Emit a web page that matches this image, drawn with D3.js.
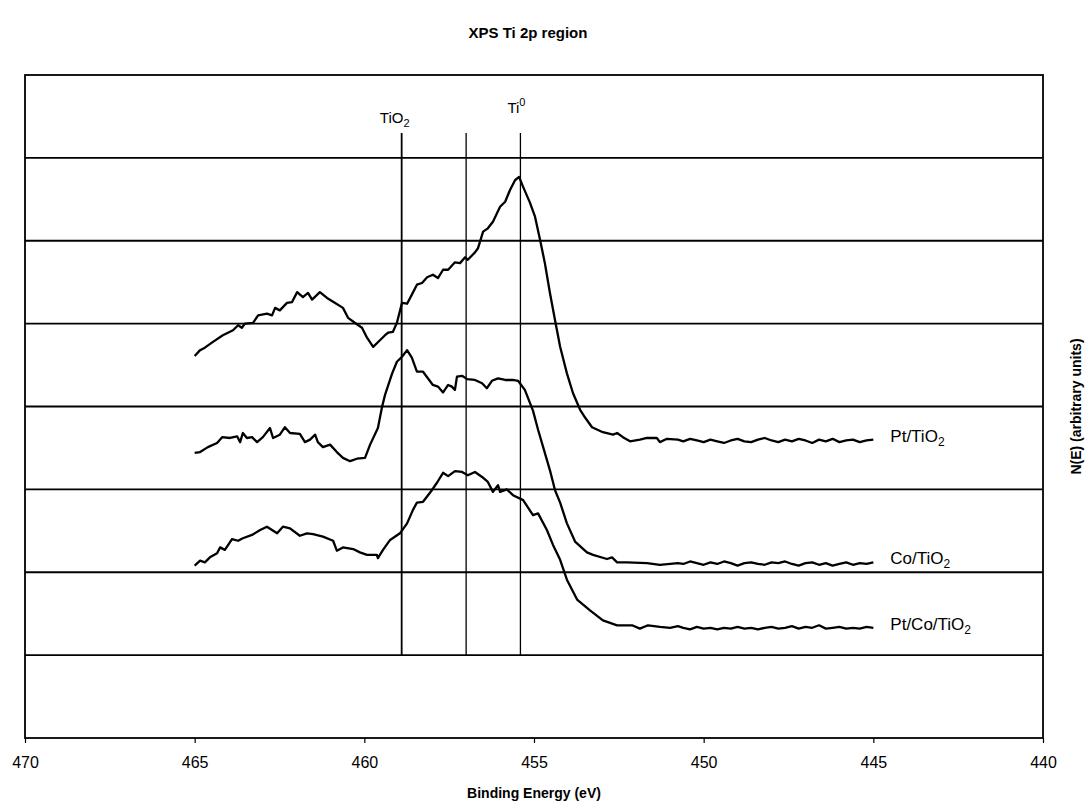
<!DOCTYPE html>
<html>
<head>
<meta charset="utf-8">
<script src="https://cdn.jsdelivr.net/npm/d3@7/dist/d3.min.js"></script>
<style>
  body { margin: 0; background: #fff; }
  svg { display: block; font-family: "Liberation Sans", Arial, sans-serif; }
</style>
</head>
<body>
<div id="chart"></div>
<script>
// Daten
const xTicks = [470, 465, 460, 455, 450, 445, 440];
const gridLevels = [1, 2, 3, 4, 5, 6, 7];
const markerEnergies = [458.9, 457.0, 455.4];
const markerRange = [1.0, 7.3];

const ptTiO2 = [
  [465.00,4.61],[464.84,4.68],[464.70,4.71],[464.46,4.78],[464.17,4.86],[463.87,4.92],[463.72,4.98],
  [463.61,4.95],[463.52,5.00],[463.28,5.01],[463.13,5.10],[462.87,5.12],[462.72,5.10],[462.63,5.19],
  [462.49,5.16],[462.28,5.25],[462.13,5.26],[461.98,5.38],[461.81,5.32],[461.66,5.37],[461.54,5.29],
  [461.31,5.38],[461.10,5.31],[460.86,5.25],[460.63,5.19],[460.48,5.07],[460.28,5.01],[460.07,4.95],
  [459.92,4.83],[459.74,4.72],[459.54,4.80],[459.39,4.86],[459.30,4.89],[459.16,4.90],[459.04,5.01],
  [458.89,5.25],[458.74,5.24],[458.60,5.35],[458.45,5.47],[458.30,5.49],[458.15,5.56],[457.98,5.59],
  [457.83,5.55],[457.68,5.65],[457.53,5.65],[457.33,5.74],[457.18,5.73],[457.03,5.80],[456.95,5.77],
  [456.74,5.86],[456.65,5.91],[456.50,6.11],[456.36,6.15],[456.21,6.23],[456.00,6.41],[455.85,6.47],
  [455.71,6.61],[455.56,6.73],[455.44,6.77],[455.32,6.65],[455.12,6.46],[454.97,6.29],[454.82,6.01],
  [454.68,5.73],[454.53,5.37],[454.38,5.04],[454.23,4.72],[454.03,4.40],[453.85,4.16],[453.64,3.96],
  [453.50,3.87],[453.29,3.75],[452.97,3.69],[452.67,3.66],[452.55,3.68],[452.38,3.63],[452.17,3.58],
  [451.88,3.60],[451.67,3.62],[451.38,3.62],[451.29,3.57],[451.08,3.61],[450.76,3.60],
  [450.6,3.58],[450.4,3.61],[450.2,3.59],[450.0,3.57],[449.8,3.60],[449.6,3.58],[449.4,3.56],
  [449.2,3.59],[449.0,3.61],[448.8,3.58],[448.6,3.57],[448.4,3.60],[448.2,3.62],[448.0,3.59],
  [447.8,3.57],[447.6,3.60],[447.4,3.58],[447.2,3.61],[447.0,3.59],[446.8,3.56],[446.6,3.60],
  [446.4,3.58],[446.2,3.61],[446.0,3.57],[445.8,3.59],[445.6,3.60],[445.4,3.57],[445.2,3.59],[445.0,3.60]
];

const coTiO2 = [
  [465.00,3.44],[464.84,3.45],[464.61,3.51],[464.34,3.56],[464.19,3.63],[463.96,3.62],[463.75,3.64],
  [463.66,3.57],[463.58,3.68],[463.46,3.62],[463.31,3.63],[463.16,3.57],[462.99,3.63],[462.78,3.74],
  [462.69,3.62],[462.49,3.66],[462.34,3.75],[462.19,3.68],[461.90,3.67],[461.75,3.57],[461.60,3.60],
  [461.45,3.66],[461.37,3.57],[461.22,3.51],[461.01,3.54],[460.81,3.45],[460.63,3.38],[460.42,3.34],
  [460.22,3.37],[459.98,3.38],[459.83,3.54],[459.60,3.74],[459.48,3.99],[459.39,4.14],[459.18,4.40],
  [459.04,4.54],[458.89,4.60],[458.74,4.68],[458.60,4.59],[458.45,4.42],[458.27,4.42],[457.98,4.26],
  [457.83,4.24],[457.68,4.17],[457.53,4.26],[457.42,4.24],[457.33,4.20],[457.27,4.36],[457.12,4.37],
  [456.97,4.33],[456.74,4.32],[456.53,4.28],[456.39,4.22],[456.24,4.31],[456.06,4.34],[455.85,4.32],
  [455.62,4.32],[455.47,4.31],[455.27,4.20],[455.03,3.95],[454.88,3.72],[454.73,3.51],[454.53,3.23],
  [454.38,2.99],[454.23,2.84],[454.03,2.59],[453.79,2.37],[453.44,2.24],[453.26,2.21],[452.85,2.16],
  [452.70,2.18],[452.55,2.12],[452.26,2.12],[451.67,2.11],[451.29,2.09],[450.76,2.11],
  [450.6,2.10],[450.4,2.13],[450.2,2.11],[450.0,2.09],[449.8,2.12],[449.6,2.10],[449.4,2.13],
  [449.2,2.11],[449.0,2.08],[448.8,2.11],[448.6,2.12],[448.4,2.10],[448.2,2.09],[448.0,2.12],
  [447.8,2.11],[447.6,2.13],[447.4,2.10],[447.2,2.08],[447.0,2.11],[446.8,2.12],[446.6,2.09],
  [446.4,2.11],[446.2,2.08],[446.0,2.10],[445.8,2.12],[445.6,2.09],[445.4,2.11],[445.2,2.10],[445.0,2.12]
];

const ptCoTiO2 = [
  [465.00,2.08],[464.84,2.14],[464.70,2.12],[464.55,2.18],[464.34,2.23],[464.25,2.30],[464.11,2.27],
  [463.90,2.40],[463.72,2.38],[463.58,2.41],[463.31,2.45],[463.07,2.51],[462.87,2.55],[462.57,2.47],
  [462.40,2.55],[462.19,2.53],[461.90,2.44],[461.69,2.47],[461.51,2.46],[461.22,2.43],[460.92,2.38],
  [460.81,2.26],[460.63,2.30],[460.33,2.28],[460.13,2.24],[459.92,2.21],[459.63,2.21],[459.60,2.17],
  [459.45,2.27],[459.24,2.39],[458.95,2.47],[458.74,2.59],[458.57,2.75],[458.45,2.84],[458.27,2.85],
  [458.01,2.99],[457.86,3.08],[457.68,3.20],[457.53,3.16],[457.33,3.22],[457.12,3.21],[456.95,3.17],
  [456.74,3.21],[456.53,3.15],[456.36,3.09],[456.21,2.97],[456.06,3.05],[456.00,2.97],[455.80,3.00],
  [455.62,2.93],[455.32,2.87],[455.03,2.69],[454.88,2.71],[454.62,2.51],[454.44,2.33],[454.23,2.15],
  [454.03,1.91],[453.73,1.67],[453.35,1.54],[452.97,1.42],[452.55,1.36],[452.11,1.36],[451.88,1.32],
  [451.64,1.36],[451.29,1.34],[450.99,1.33],[450.76,1.35],
  [450.6,1.33],[450.4,1.31],[450.2,1.34],[450.0,1.32],[449.8,1.33],[449.6,1.31],[449.4,1.33],
  [449.2,1.32],[449.0,1.34],[448.8,1.32],[448.6,1.33],[448.4,1.31],[448.2,1.33],[448.0,1.34],
  [447.8,1.32],[447.6,1.33],[447.4,1.35],[447.2,1.32],[447.0,1.34],[446.8,1.33],[446.6,1.36],
  [446.4,1.32],[446.2,1.33],[446.0,1.34],[445.8,1.32],[445.6,1.33],[445.4,1.32],[445.2,1.34],[445.0,1.33]
];

const seriesNames = ["Pt/TiO", "Co/TiO", "Pt/Co/TiO"];
const seriesData = [ptTiO2, coTiO2, ptCoTiO2];

// Grundgerüst
const breite = 1090;
const hoehe = 809;
const rand = { left: 25, right: 1043, top: 75, bottom: 738 };

const svg = d3.select("#chart").append("svg")
  .attr("width", breite)
  .attr("height", hoehe);

const xScale = d3.scaleLinear().domain([470, 440]).range([rand.left, rand.right]);
const yScale = d3.scaleLinear().domain([0, 8]).range([rand.bottom, rand.top]);

// Rahmen + Gitter
svg.append("rect")
  .attr("x", rand.left)
  .attr("y", rand.top)
  .attr("width", rand.right - rand.left)
  .attr("height", rand.bottom - rand.top)
  .attr("fill", "none")
  .attr("stroke", "#000")
  .attr("stroke-width", 1.8);

svg.append("g").selectAll("line")
  .data(gridLevels)
  .enter()
  .append("line")
  .attr("x1", rand.left)
  .attr("x2", rand.right)
  .attr("y1", d => yScale(d))
  .attr("y2", d => yScale(d))
  .attr("stroke", "#000")
  .attr("stroke-width", 1.8);

// x-Achse
const xAxis = d3.axisBottom(xScale)
  .tickValues(xTicks)
  .tickSize(5)
  .tickPadding(14)
  .tickFormat(d3.format("d"));

const xAxisG = svg.append("g")
  .attr("transform", `translate(0,${rand.bottom})`)
  .call(xAxis);

xAxisG.select(".domain").remove();
xAxisG.selectAll("line").attr("stroke", "#000").attr("stroke-width", 1.2);
xAxisG.selectAll("text")
  .attr("font-family", "Liberation Sans, Arial, sans-serif")
  .attr("font-size", 16)
  .attr("fill", "#000");

// Markierungslinien
svg.append("g").selectAll("line")
  .data(markerEnergies)
  .enter()
  .append("line")
  .attr("x1", d => xScale(d))
  .attr("x2", d => xScale(d))
  .attr("y1", yScale(markerRange[1]))
  .attr("y2", yScale(markerRange[0]))
  .attr("stroke", "#000")
  .attr("stroke-width", (d, i) => i === 0 ? 1.8 : 1.3);

const tiO2Label = svg.append("text")
  .attr("x", xScale(markerEnergies[0]) - 7)
  .attr("y", 123)
  .attr("text-anchor", "middle")
  .attr("font-size", 15);
tiO2Label.append("tspan").text("TiO");
tiO2Label.append("tspan").attr("dy", 4).attr("font-size", 11).text("2");

const ti0Label = svg.append("text")
  .attr("x", xScale(markerEnergies[2]) - 4)
  .attr("y", 113)
  .attr("text-anchor", "middle")
  .attr("font-size", 15);
ti0Label.append("tspan").text("Ti");
ti0Label.append("tspan").attr("dy", -7).attr("font-size", 11).text("0");

// Kurven
const line = d3.line()
  .x(d => xScale(d[0]))
  .y(d => yScale(d[1]));

svg.append("g").selectAll("path")
  .data(seriesData)
  .enter()
  .append("path")
  .attr("d", line)
  .attr("fill", "none")
  .attr("stroke", "#000")
  .attr("stroke-width", 2.3)
  .attr("stroke-linejoin", "round");

// Kurvenbeschriftung
seriesData.forEach((serie, i) => {
  const last = serie[serie.length - 1];
  const label = svg.append("text")
    .attr("x", xScale(last[0]) + 17)
    .attr("y", yScale(last[1]) + 2)
    .attr("font-size", 17);
  label.append("tspan").text(seriesNames[i]);
  label.append("tspan").attr("dy", 4).attr("font-size", 12).text("2");
});

// Titel + Achsentitel
svg.append("text")
  .attr("x", 528)
  .attr("y", 38)
  .attr("text-anchor", "middle")
  .attr("font-size", 15)
  .attr("font-weight", "bold")
  .text("XPS Ti 2p region");

svg.append("text")
  .attr("x", (rand.left + rand.right) / 2)
  .attr("y", 798)
  .attr("text-anchor", "middle")
  .attr("font-size", 14)
  .attr("font-weight", "bold")
  .text("Binding Energy (eV)");

svg.append("text")
  .attr("transform", `translate(1081,${(rand.top + rand.bottom) / 2}) rotate(-90)`)
  .attr("text-anchor", "middle")
  .attr("font-size", 14)
  .attr("font-weight", "bold")
  .text("N(E) (arbitrary units)");
</script>
</body>
</html>
